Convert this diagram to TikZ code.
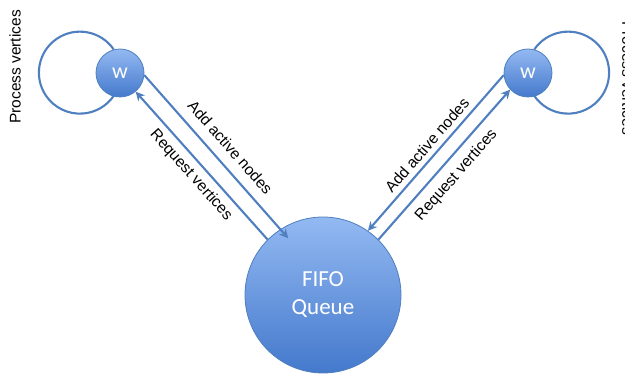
\documentclass[tikz,border=0pt]{standalone}
\usepackage{fontspec}
\setmainfont{Liberation Sans}
\newfontfamily\calfont{Carlito}
\usetikzlibrary{arrows.meta}
\definecolor{edgeblue}{HTML}{4F7FBE}
\definecolor{lightblue}{HTML}{93B9F2}
\definecolor{darkblue}{HTML}{4479CC}

\begin{document}
\begin{tikzpicture}[
    x=1pt, y=1pt,
    worker/.style = {circle, draw=edgeblue, line width=0.8pt, top color=lightblue, bottom color=darkblue, minimum size=48pt, inner sep=0pt, text=white, font=\calfont\fontsize{22}{24}\selectfont},
    queue/.style = {circle, draw=edgeblue, line width=0.8pt, top color=lightblue, bottom color=darkblue, minimum size=156pt, inner sep=0pt, text=white, align=center, font=\calfont\fontsize{23}{28}\selectfont},
    arrow/.style = {draw=edgeblue, line width=2.1pt, -{Stealth[length=9pt, width=9pt]}},
    loopline/.style = {draw=edgeblue, line width=2.1pt},
    lbl/.style = {font=\fontsize{15.5}{18}\selectfont, inner sep=1pt}
]
\useasboundingbox (0,0) rectangle (625,375);

% Workers and queue
\node (wl) [worker] at (120, 302) {w};
\node (wr) [worker] at (528, 302) {w};
\node (fifo) [queue] at (323, 80) {FIFO\\Queue};

% Self loops
\draw [loopline] (wl.105) arc[start angle=34.5, end angle=325.5, radius=41];
\draw [loopline] (wr.75) arc[start angle=145.5, end angle=-145.5, radius=41];
\node (pl) [lbl, rotate=90] at (15, 308) {Process vertices};
\node (pr) [lbl, rotate=-90] at (628, 297) {Process vertices};

% Arrows
\draw [arrow, shorten >=-12pt] (wl.-5) -- (fifo.123) node [lbl, pos=0.54, sloped, above=9pt] {Add active nodes};
\draw [arrow] (fifo.135) -- (wl.-50) node [lbl, midway, sloped, below=5pt] {Request vertices};
\draw [arrow] (wr.185) -- (fifo.55) node [lbl, midway, sloped, above=4pt] {Add active nodes};
\draw [arrow] (fifo.45) -- (wr.223) node [lbl, midway, sloped, below=7pt] {Request vertices};

\end{tikzpicture}
\end{document}
